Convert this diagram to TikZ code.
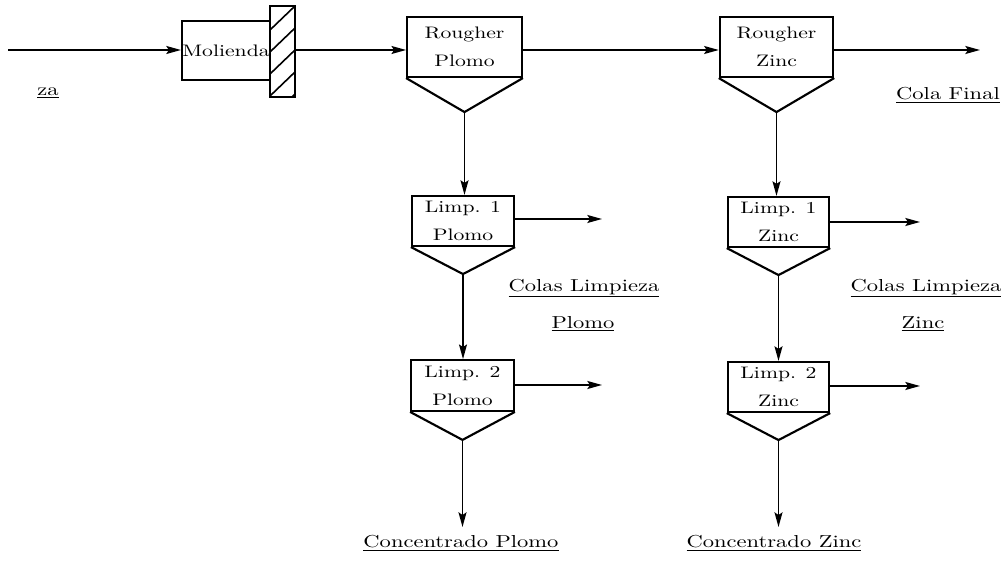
\documentclass[tikz,border=0pt]{standalone}
\usepackage{fontspec}
\newfontfamily\flowfont{lmroman10-regular.otf}[FakeStretch=1.3]
\usetikzlibrary{arrows.meta}

\tikzset{
	celda/.style={draw,line width=1.6pt,rectangle,inner sep=0pt,align=center,
		font=\flowfont\fontsize{12.5}{21}\selectfont},
	flujo/.style={line width=1.2pt,-{Stealth[length=11pt,width=6pt,inset=2pt]}},
	etiqueta/.style={inner sep=0pt,font=\flowfont\fontsize{13}{15}\selectfont}
}

\begin{document}
\begin{tikzpicture}[x=0.75pt,y=-0.75pt]
	
	\useasboundingbox (0,0) rectangle (1008,573);
	
	% --- molino con su parrilla ---
	\node[celda,minimum width=66pt,minimum height=44pt] (mol) at (226,50.5) {Molienda};
	\node[draw,line width=1.6pt,minimum width=19pt,minimum height=68pt,inner sep=0pt] (parr) at (282.5,51.5) {};
	\begin{scope}
		\clip (parr.south west) rectangle (parr.north east);
		\foreach \k in {0,...,4}
			\draw[line width=1.2pt] (270,6+22*\k+24) -- (295,6+22*\k);
	\end{scope}
	
	% --- celdas: rougher y limpiezas ---
	\node[celda,minimum width=86pt,minimum height=45pt] (rp) at (464.5,47) {Rougher\\Plomo};
	\node[celda,minimum width=85pt,minimum height=45pt] (rz) at (776.5,47) {Rougher\\Zinc};
	\node[celda,minimum width=76.5pt,minimum height=37.5pt] (lp1) at (463,221) {Limp. 1\\Plomo};
	\node[celda,minimum width=76pt,minimum height=37.5pt] (lz1) at (778.5,222) {Limp. 1\\Zinc};
	\node[celda,minimum width=77pt,minimum height=38pt] (lp2) at (462.5,385.5) {Limp. 2\\Plomo};
	\node[celda,minimum width=76pt,minimum height=37.5pt] (lz2) at (778.5,387) {Limp. 2\\Zinc};
	
	% conos bajo cada celda
	\foreach \c/\h in {rp/34, rz/34, lp1/27, lz1/27, lp2/28, lz2/27}{
		\path (\c.south) ++(0,\h) coordinate (\c-tip);
		\draw[line width=1.6pt] (\c.south west) -- (\c-tip) -- (\c.south east);
	}
	
	% extremos libres
	\coordinate (ent) at (8,50);
	\coordinate (colaf) at (980,50);
	\coordinate (sp1) at (602,219);
	\coordinate (sz1) at (920,222);
	\coordinate (sp2) at (602,385);
	\coordinate (sz2) at (920,386);
	\coordinate (cp) at (464,527);
	\coordinate (cz) at (780,527);
	
	% --- flujos ---
	\draw[flujo] (ent) -- (ent -| mol.west);
	\draw[flujo] (parr.east |- ent) -- (ent -| rp.west);
	\draw[flujo] (rp.east |- ent) -- (ent -| rz.west);
	\draw[flujo] (rz.east |- colaf) -- (colaf);
	
	\draw[flujo] (rp-tip) -- (rp-tip |- lp1.north);
	\draw[flujo] (lp1-tip) -- (lp1-tip |- lp2.north);
	\draw[flujo] (lp2-tip) -- (lp2-tip |- cp);
	\draw[flujo] (rz-tip) -- (rz-tip |- lz1.north);
	\draw[flujo] (lz1-tip) -- (lz1-tip |- lz2.north);
	\draw[flujo] (lz2-tip) -- (lz2-tip |- cz);
	
	\draw[flujo] (lp1.east |- sp1) -- (sp1);
	\draw[flujo] (lz1.east |- sz1) -- (sz1);
	\draw[flujo] (lp2.east |- sp2) -- (sp2);
	\draw[flujo] (lz2.east |- sz2) -- (sz2);
	
	% --- etiquetas ---
	\node[etiqueta] (lza) at (48,93) {\underline{za}};
	\node[etiqueta] (lcf) at (948,95) {\underline{Cola Final}};
	\node[etiqueta] (lclp) at (584,288) {\underline{Colas Limpieza}};
	\node[etiqueta] (lpb) at (583,324) {\underline{Plomo}};
	\node[etiqueta] (lclz) at (926,288) {\underline{Colas Limpieza}};
	\node[etiqueta] (lzn) at (923,324) {\underline{Zinc}};
	\node[etiqueta] (lcp) at (461,543) {\underline{Concentrado Plomo}};
	\node[etiqueta] (lcz) at (774,543) {\underline{Concentrado Zinc}};
	
\end{tikzpicture}
\end{document}
